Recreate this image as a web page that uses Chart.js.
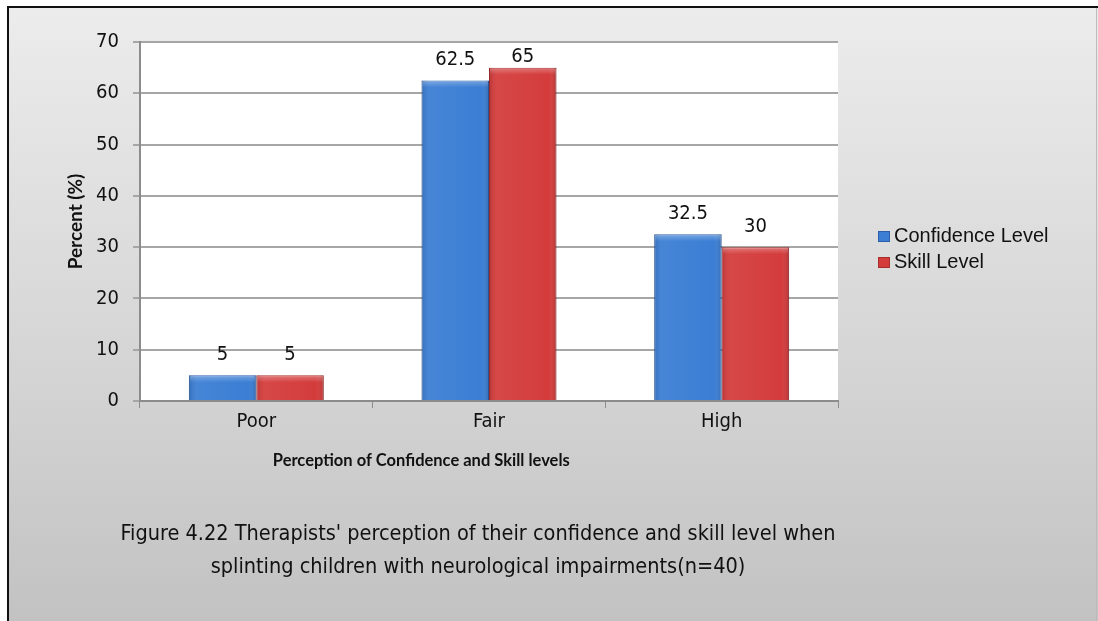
<!DOCTYPE html>
<html>
<head>
<meta charset="utf-8">
<script src="https://cdn.jsdelivr.net/npm/chart.js@4.4.0/dist/chart.umd.min.js"></script>
<style>
  body { margin: 0; background: #fff; }
  #wrap { position: relative; width: 1098px; height: 621px; overflow: hidden; }
  #caption {
    position: absolute; left: 80px; width: 796px; top: 516px;
    text-align: center; font-family: 'DejaVu Sans Condensed', sans-serif;
    font-size: 21.5px; line-height: 33px; color: #111;
  }
</style>
</head>
<body>
<div id="wrap">
  <canvas id="chart" width="1098" height="621"></canvas>
  <div id="caption">Figure 4.22 Therapists' perception of their confidence and skill level when<br>splinting children with neurological impairments(n=40)</div>
</div>
<script>
// data
const categories = ['Poor', 'Fair', 'High'];
const confidenceLevel = [5, 62.5, 32.5];
const skillLevel = [5, 65, 30];
const yTicks = [0, 10, 20, 30, 40, 50, 60, 70];

const NARROW = "'DejaVu Sans Condensed', sans-serif";
const SANS = "'Liberation Sans', Arial, sans-serif";
const HUMAN = "Lato, 'Open Sans', sans-serif";

// background panel + white plot area
const panelPlugin = {
    id: 'panel',
    beforeDraw(chart) {
        const ctx = chart.ctx;
        const g = ctx.createLinearGradient(0, 7, 0, 621);
        g.addColorStop(0, '#ececec');
        g.addColorStop(0.6, '#d4d4d4');
        g.addColorStop(1, '#c2c2c2');
        ctx.save();
        ctx.fillStyle = g;
        ctx.fillRect(8, 7, 1090, 614);
        ctx.strokeStyle = '#111';
        ctx.lineWidth = 2;
        ctx.beginPath();
        ctx.moveTo(8, 621); ctx.lineTo(8, 7); ctx.lineTo(1098, 7);
        ctx.stroke();
        ctx.strokeStyle = '#bbb';
        ctx.lineWidth = 1;
        ctx.beginPath();
        ctx.moveTo(1096.5, 8); ctx.lineTo(1096.5, 621);
        ctx.stroke();
        const a = chart.chartArea;
        ctx.fillStyle = '#fff';
        ctx.fillRect(a.left, a.top, a.right - a.left, a.bottom - a.top);
        ctx.restore();
    }
};

// bevel shading on bars + value labels above them
const valuePlugin = {
    id: 'values',
    afterDatasetsDraw(chart) {
        const ctx = chart.ctx;
        const top = chart.chartArea.top;
        ctx.save();
        chart.data.datasets.forEach((ds, i) => {
            chart.getDatasetMeta(i).data.forEach(bar => {
                const l = bar.x - bar.width / 2, w = bar.width, h = bar.base - bar.y;
                const g = ctx.createLinearGradient(l, 0, l + w, 0);
                g.addColorStop(0, 'rgba(0,0,0,0.12)');
                g.addColorStop(0.12, 'rgba(255,255,255,0.06)');
                g.addColorStop(0.88, 'rgba(255,255,255,0.0)');
                g.addColorStop(1, 'rgba(0,0,0,0.15)');
                ctx.fillStyle = g;
                ctx.fillRect(l, bar.y, w, h);
                const hl = ctx.createLinearGradient(0, bar.y, 0, bar.y + 7);
                hl.addColorStop(0, 'rgba(255,255,255,0.3)');
                hl.addColorStop(1, 'rgba(255,255,255,0)');
                ctx.fillStyle = hl;
                ctx.fillRect(l + 1, bar.y + 1, w - 2, Math.min(7, h - 2));
            });
        });
        ctx.font = '20px ' + NARROW;
        ctx.fillStyle = '#111';
        ctx.textAlign = 'center';
        ctx.textBaseline = 'alphabetic';
        chart.data.datasets.forEach((ds, i) => {
            chart.getDatasetMeta(i).data.forEach((bar, j) => {
                const y = Math.max(bar.y - 15, top + 20);
                ctx.fillText(ds.data[j], bar.x, y);
            });
        });
        ctx.restore();
    }
};

// legend on the right, x-axis title under the ticks
const legendPlugin = {
    id: 'sideLegend',
    afterDraw(chart) {
        const ctx = chart.ctx;
        ctx.save();
        ctx.font = '20px ' + SANS;
        ctx.textBaseline = 'middle';
        chart.data.datasets.forEach((ds, i) => {
            const y = 236 + i * 26;
            ctx.fillStyle = ds.backgroundColor;
            ctx.fillRect(878, y - 5, 12, 11);
            ctx.strokeStyle = ds.borderColor;
            ctx.strokeRect(878.5, y - 4.5, 11, 10);
            ctx.fillStyle = '#111';
            ctx.fillText(ds.label, 894, y);
        });
        const xs = chart.scales.x;
        ctx.font = 'bold 16.5px ' + HUMAN;
        ctx.textAlign = 'center';
        ctx.fillText('Perception of Confidence and Skill levels', xs.left + xs.width * 0.403, xs.top + 60);
        ctx.restore();
    }
};

new Chart(document.getElementById('chart'), {
    type: 'bar',
    data: {
        labels: categories,
        datasets: [
            { label: 'Confidence Level', data: confidenceLevel, backgroundColor: '#3b7ed4', borderColor: '#2c5fa8', borderWidth: 1 },
            { label: 'Skill Level', data: skillLevel, backgroundColor: '#d43c3c', borderColor: '#a82e2e', borderWidth: 1 }
        ]
    },
    options: {
        responsive: false,
        animation: false,
        layout: { padding: { left: 60, top: 42, right: 260, bottom: 140 } },
        datasets: { bar: { categoryPercentage: 0.58, barPercentage: 1 } },
        plugins: { legend: { display: false }, tooltip: { enabled: false } },
        scales: {
            x: {
                afterFit: s => { s.height = 80; },
                grid: { offset: true, drawOnChartArea: false, drawTicks: true, tickLength: 7, color: '#8c8c8c' },
                border: { color: '#8c8c8c', width: 2 },
                ticks: { color: '#111', font: { family: NARROW, size: 20 }, padding: 2 }
            },
            y: {
                min: 0, max: 70,
                afterFit: s => { s.width = 80; },
                afterBuildTicks: s => { s.ticks = yTicks.map(v => ({ value: v })); },
                grid: { color: '#a6a6a6', lineWidth: 2, tickLength: 7 },
                border: { color: '#8c8c8c', width: 2 },
                ticks: { color: '#111', font: { family: NARROW, size: 20 }, padding: 14 },
                title: { display: true, text: 'Percent (%)', color: '#111',
                         font: { family: HUMAN, size: 19, weight: 'bold' }, padding: { top: 4, bottom: 0 } }
            }
        }
    },
    plugins: [panelPlugin, valuePlugin, legendPlugin]
});
</script>
</body>
</html>
